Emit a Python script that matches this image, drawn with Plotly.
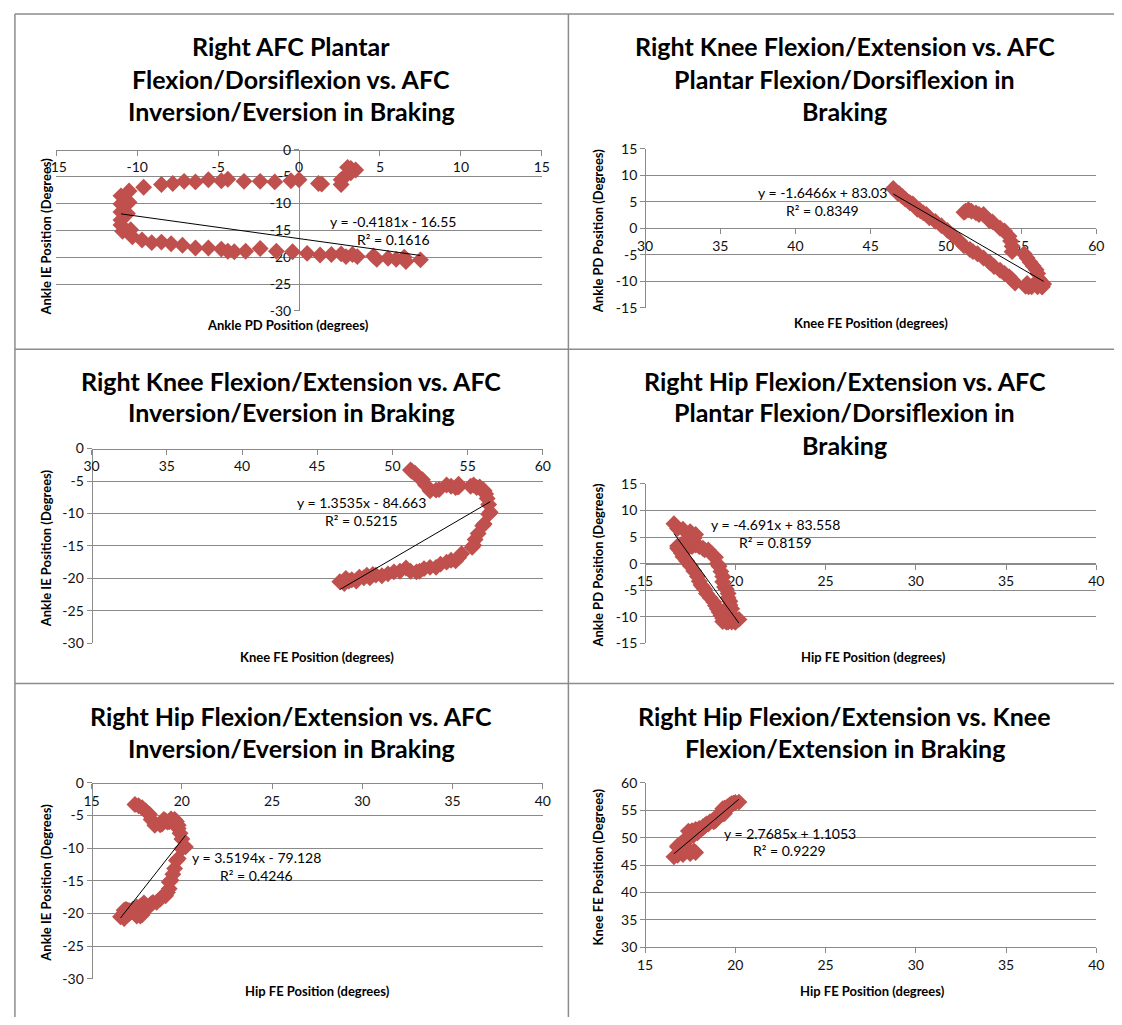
import plotly.graph_objects as go

# ---------------- data (one braking trajectory) ----------------
ankle_pd = [3.0, 3.2, 3.5, 3.2, 2.9, 2.6, 2.6, 1.4, 1.2, 0.0, -0.5, -1.5, -2.4, -3.4, -4.4,
            -4.8, -5.6, -6.4, -7.1, -7.8, -8.5, -9.6, -10.5, -11.0, -10.5, -11.0, -11.0, -10.6,
            -11.0, -11.0, -10.4, -10.9, -10.3, -9.7, -9.1, -8.5, -7.9, -7.2, -6.4, -5.6, -4.8,
            -4.4, -4.0, -3.3, -2.4, -1.4, -0.4, 0.5, 1.3, 2.0, 2.6, 2.9, 3.3, 3.6, 4.6, 4.8,
            5.5, 6.0, 6.5, 6.6, 7.5]
ankle_ie = [-3.3, -3.5, -3.8, -4.3, -4.8, -5.6, -6.5, -6.4, -6.3, -5.6, -5.8, -6.0, -5.9, -5.9,
            -5.5, -5.8, -5.6, -6.0, -5.9, -6.3, -6.5, -7.0, -7.7, -8.6, -9.8, -10.1, -11.6,
            -11.9, -13.1, -14.0, -14.9, -15.2, -16.2, -16.8, -17.3, -17.2, -17.5, -17.8, -18.3,
            -18.3, -18.5, -18.9, -19.0, -18.9, -18.4, -18.9, -19.0, -19.3, -19.6, -19.5, -19.4,
            -19.9, -19.5, -19.9, -19.8, -20.4, -20.2, -20.4, -20.0, -20.8, -20.5]
knee_fe = [51.2, 51.3, 51.5, 51.7, 52.0, 52.2, 52.5, 52.9, 53.1, 53.6, 53.9, 54.2, 54.3, 54.4,
           54.4, 55.2, 55.4, 55.6, 55.8, 56.0, 56.1, 56.2, 56.3, 56.4, 56.5, 56.4, 56.1, 56.0,
           55.7, 55.5, 55.4, 55.3, 54.6, 54.4, 54.2, 53.9, 53.6, 53.2, 52.9, 52.5, 52.1, 51.8,
           51.6, 51.2, 50.9, 50.5, 50.1, 49.7, 49.3, 48.9, 48.7, 48.5, 48.3, 48.1, 47.8, 47.6,
           47.3, 47.1, 46.9, 46.8, 46.5]
hip_fe = [17.4, 17.6, 17.8, 18.0, 18.2, 18.3, 18.5, 18.8, 18.9, 19.0, 19.1, 19.2, 19.3, 19.3,
          19.4, 19.5, 19.6, 19.6, 19.7, 19.7, 19.8, 19.8, 19.9, 20.0, 20.2, 20.0, 19.8, 19.7,
          19.6, 19.5, 19.4, 19.3, 19.3, 19.2, 19.1, 19.0, 18.9, 18.8, 18.6, 18.4, 18.3, 18.2,
          18.1, 18.0, 17.9, 17.7, 17.5, 17.3, 17.1, 17.0, 16.9, 16.8, 16.8, 17.0, 17.4, 17.7,
          17.8, 17.5, 17.1, 16.8, 16.6]

trend_slope = [-0.4181, -1.6466, 1.3535, -4.691, 3.5194, 2.7685]
trend_intercept = [-16.55, 83.03, -84.663, 83.558, -79.128, 1.1053]
trend_r2 = [0.1616, 0.8349, 0.5215, 0.8159, 0.4246, 0.9229]

titles = [
    ["Right AFC Plantar", "Flexion/Dorsiflexion vs. AFC", "Inversion/Eversion in Braking"],
    ["Right Knee Flexion/Extension vs. AFC", "Plantar Flexion/Dorsiflexion in", "Braking"],
    ["Right Knee Flexion/Extension vs. AFC", "Inversion/Eversion in Braking"],
    ["Right Hip Flexion/Extension vs. AFC", "Plantar Flexion/Dorsiflexion in", "Braking"],
    ["Right Hip Flexion/Extension vs. AFC", "Inversion/Eversion in Braking"],
    ["Right Hip Flexion/Extension vs. Knee", "Flexion/Extension in Braking"],
]
x_titles = ["Ankle PD Position (degrees)", "Knee FE Position (degrees)", "Knee FE Position (degrees)",
            "Hip FE Position (degrees)", "Hip FE Position (degrees)", "Hip FE Position (degrees)"]
y_titles = ["Ankle IE Position (Degrees)", "Ankle PD Position (Degrees)", "Ankle IE Position (Degrees)",
            "Ankle PD Position (Degrees)", "Ankle IE Position (Degrees)", "Knee FE Position (Degrees)"]

pd_ticks = [-15, -10, -5, 0, 5, 10, 15]
ie_ticks = [-30, -25, -20, -15, -10, -5, 0]
knee_ticks = [30, 35, 40, 45, 50, 55, 60]
hip_ticks = [15, 20, 25, 30, 35, 40]
pd_ticks_y = [-15, -10, -5, 0, 5, 10, 15]

series = {"pd": ankle_pd, "ie": ankle_ie, "knee": knee_fe, "hip": hip_fe}

# ---------------- layout (pixels) ----------------
W, H = 1122, 1025
FONT = "Lato"
RED = "#C0504D"
GRID = "#8A8A8A"


def X(px):
    return px / W


def Y(py):
    return 1 - py / H


panels = [
    dict(x="pd", y="ie", xt=pd_ticks, yt=ie_ticks, px=(46, 540), py=(143, 307), xcross=0, ycross=0,
         tcy=[38, 71, 104], tcx=285, xtitle=(282, 321), ytitle=(36, 231), eq=(389, 216)),
    dict(x="knee", y="pd", xt=knee_ticks, yt=pd_ticks_y, px=(645, 1104), py=(142, 304), xcross=None, ycross=0,
         tcy=[38, 71, 104], tcx=848, xtitle=(875, 319), ytitle=(597, 226), eq=(825, 187)),
    dict(x="knee", y="ie", xt=knee_ticks, yt=ie_ticks, px=(82, 541), py=(447, 645), xcross=None, ycross=0,
         tcy=[378, 410], tcx=285, xtitle=(311, 659), ytitle=(36, 548), eq=(357, 502)),
    dict(x="hip", y="pd", xt=hip_ticks, yt=pd_ticks_y, px=(645, 1104), py=(483, 645), xcross=None, ycross=0,
         tcy=[378, 410, 443], tcx=848, xtitle=(877, 659), ytitle=(597, 566), eq=(778, 524)),
    dict(x="hip", y="ie", xt=hip_ticks, yt=ie_ticks, px=(82, 541), py=(787, 986), xcross=None, ycross=0,
         tcy=[719, 751], tcx=285, xtitle=(312, 999), ytitle=(36, 888), eq=(250, 863)),
    dict(x="hip", y="knee", xt=hip_ticks, yt=knee_ticks, px=(645, 1104), py=(787, 954), xcross=None, ycross=None,
         tcy=[719, 751], tcx=848, xtitle=(876, 999), ytitle=(597, 872), eq=(792, 838)),
]

fig = go.Figure()
annotations = []
layout_axes = {}

for i, p in enumerate(panels):
    n = i + 1
    xs = series[p["x"]]
    ys = series[p["y"]]
    xr = [p["xt"][0], p["xt"][-1]]
    yr = [p["yt"][0], p["yt"][-1]]
    xd = [X(p["px"][0]), X(p["px"][1])]
    yd = [Y(p["py"][1]), Y(p["py"][0])]
    xname = "x" if n == 1 else f"x{n}"
    yname = "y" if n == 1 else f"y{n}"

    # where the axes cross (Excel style: at 0 when inside the range)
    yv = p["ycross"] if p["ycross"] is not None else yr[0]
    xv = p["xcross"] if p["xcross"] is not None else xr[0]
    xpos = yd[0] + (yv - yr[0]) / (yr[1] - yr[0]) * (yd[1] - yd[0])
    ypos = xd[0] + (xv - xr[0]) / (xr[1] - xr[0]) * (xd[1] - xd[0])

    tickfont = dict(family=FONT, size=14, color="#111111")
    layout_axes["xaxis" if n == 1 else f"xaxis{n}"] = dict(
        domain=xd, range=xr, anchor="free", position=xpos, side="bottom",
        tickvals=p["xt"], ticktext=[str(v) for v in p["xt"]],
        showgrid=False, zeroline=False, showline=True, linecolor=GRID, linewidth=1,
        ticks="outside", ticklen=5, tickcolor=GRID, tickfont=tickfont, layer="below traces",
        fixedrange=True,
    )
    layout_axes["yaxis" if n == 1 else f"yaxis{n}"] = dict(
        domain=yd, range=yr, anchor="free", position=ypos, side="left",
        tickvals=p["yt"], ticktext=[str(v) for v in p["yt"]],
        showgrid=True, gridcolor=GRID, gridwidth=1, zeroline=False, showline=True,
        linecolor=GRID, linewidth=1, ticks="outside", ticklen=5, tickcolor=GRID,
        tickfont=tickfont, layer="below traces", fixedrange=True,
    )

    fig.add_trace(go.Scatter(
        x=xs, y=ys, mode="markers", xaxis=xname, yaxis=yname,
        marker=dict(symbol="diamond", size=13, color=RED, line=dict(width=0)),
        showlegend=False, hoverinfo="skip", cliponaxis=False,
    ))
    m, b = trend_slope[i], trend_intercept[i]
    x0, x1 = min(xs), max(xs)
    fig.add_trace(go.Scatter(
        x=[x0, x1], y=[m * x0 + b, m * x1 + b], mode="lines", xaxis=xname, yaxis=yname,
        line=dict(color="#000000", width=1), showlegend=False, hoverinfo="skip",
    ))

    # chart title lines
    for line, cy in zip(titles[i], p["tcy"]):
        annotations.append(dict(
            text=f"<b>{line}</b>", x=X(p["tcx"]), y=Y(cy), xref="paper", yref="paper",
            xanchor="center", yanchor="middle", showarrow=False,
            font=dict(family=FONT, size=25, color="#000000"),
        ))
    # axis titles
    annotations.append(dict(
        text=f"<b>{x_titles[i]}</b>", x=X(p["xtitle"][0]), y=Y(p["xtitle"][1]), xref="paper", yref="paper",
        xanchor="center", yanchor="middle", showarrow=False,
        font=dict(family=FONT, size=13, color="#000000"),
    ))
    annotations.append(dict(
        text=f"<b>{y_titles[i]}</b>", x=X(p["ytitle"][0]), y=Y(p["ytitle"][1]), xref="paper", yref="paper",
        xanchor="center", yanchor="middle", showarrow=False, textangle=-90,
        font=dict(family=FONT, size=13, color="#000000"),
    ))
    # trendline equation
    sign = "+" if b >= 0 else "-"
    eq_lines = [f"y = {m}x {sign} {abs(b)}", f"R² = {trend_r2[i]}"]
    for k, line in enumerate(eq_lines):
        annotations.append(dict(
            text=line, x=X(p["eq"][0]), y=Y(p["eq"][1] + 18 * k), xref="paper", yref="paper",
            xanchor="center", yanchor="middle", showarrow=False,
            font=dict(family=FONT, size=14, color="#000000"),
        ))

# cell borders
BORDER = "#8C8C8C"
shapes = []
for (xa, ya, xb, yb) in [(4, 5, 1122, 5), (4, 346, 1122, 346), (4, 686, 1122, 686),
                         (4, 5, 4, 1025), (567, 5, 567, 1025)]:
    shapes.append(dict(type="line", xref="paper", yref="paper", x0=X(xa), y0=Y(ya), x1=X(xb), y1=Y(yb),
                       line=dict(color=BORDER, width=1.5)))

fig.update_layout(
    width=W, height=H, margin=dict(l=0, r=0, t=0, b=0),
    paper_bgcolor="white", plot_bgcolor="white",
    annotations=annotations, shapes=shapes, showlegend=False,
    **layout_axes,
)

fig.write_html(
    "out.html",
    config={"displayModeBar": False, "staticPlot": True},
    post_script="document.body.style.margin='0';document.body.style.overflow='hidden';",
)
